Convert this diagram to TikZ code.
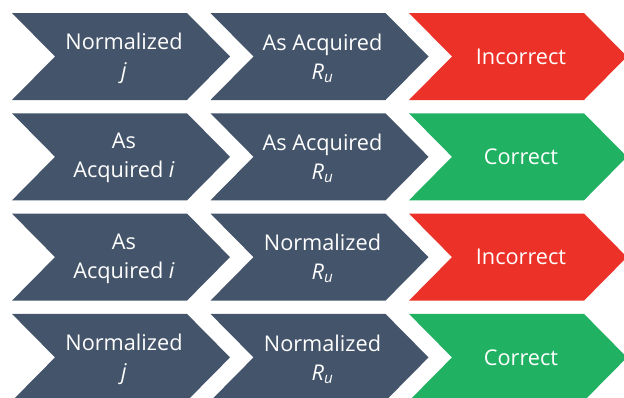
\documentclass[tikz,border=0pt]{standalone}
\usepackage{fontspec}
\setmainfont{Open Sans}
\usepackage{tikz}

\definecolor{slate}{RGB}{68,84,106}
\definecolor{wrongred}{RGB}{236,50,40}
\definecolor{rightgreen}{RGB}{32,178,98}
\newcommand\Ru{\textit{R}\textsubscript{\textit{u}}}

\begin{document}
\begin{tikzpicture}[x=1pt,y=-1pt,
    lbl/.style={text=white,align=center,font=\fontsize{21.7}{29}\selectfont}]
  \useasboundingbox (0,0) rectangle (624,397);
  \foreach \r/\c in {0/wrongred,1/rightgreen,2/wrongred,3/rightgreen}{
    \foreach \k/\f in {0/slate,1/slate,2/\c}{
      \fill[fill=\f] (12+198.5*\k,13+100.3*\r) -- ++(175,0) -- ++(43,43.5) -- ++(-43,43.5)
        -- ++(-175,0) -- ++(43,-43.5) -- cycle;
    }
  }
  \node[lbl] (a1) at (124,58) {Normalized\\\textit{j}};
  \node[lbl] (b1) at (322.5,58) {As Acquired\\\Ru};
  \node[lbl] (c1) at (521,56.5) {Incorrect};
  \node[lbl] (a2) at (124,158.3) {As\\Acquired \textit{i}};
  \node[lbl] (b2) at (322.5,158.3) {As Acquired\\\Ru};
  \node[lbl] (c2) at (521,156.8) {Correct};
  \node[lbl] (a3) at (124,258.6) {As\\Acquired \textit{i}};
  \node[lbl] (b3) at (322.5,258.6) {Normalized\\\Ru};
  \node[lbl] (c3) at (521,257.1) {Incorrect};
  \node[lbl] (a4) at (124,358.9) {Normalized\\\textit{j}};
  \node[lbl] (b4) at (322.5,358.9) {Normalized\\\Ru};
  \node[lbl] (c4) at (521,357.4) {Correct};
\end{tikzpicture}
\end{document}
